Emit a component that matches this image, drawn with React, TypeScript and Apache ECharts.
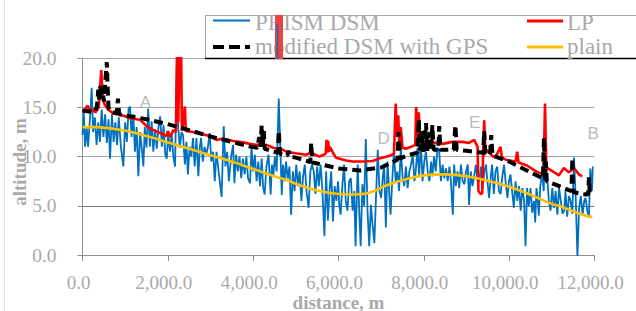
import React, { useEffect, useRef } from "react";
import * as echarts from "echarts";

// ---------- data ----------
const xTicks = { min: 0, max: 12000, interval: 2000 };
const yTicks = { min: 0, max: 20, interval: 5 };

const seriesNames = ["PRISM DSM", "LP", "modified DSM with GPS", "plain"];
const axisTitles = { x: "distance, m", y: "altitude, m" };

// PRISM DSM [distance m, altitude m]
const prismDSM: [number, number][] = [
  [0, 12.2], [30, 14.5], [60, 11.0], [100, 13.0], [130, 11.0], [170, 13.5], [215, 17.0], [250, 12.5],
  [290, 14.0], [330, 11.2], [370, 13.5], [410, 11.5], [450, 14.8], [490, 12.0], [530, 14.3], [570, 11.4],
  [610, 13.8], [645, 9.8], [690, 14.3], [730, 11.5], [770, 13.5], [810, 11.2], [850, 14.0], [900, 11.0],
  [957, 9.0], [1000, 13.5], [1040, 11.5], [1080, 14.9], [1114, 15.1], [1150, 12.0], [1190, 14.3], [1230, 10.5],
  [1270, 13.0], [1309, 8.0], [1350, 12.5], [1390, 10.8], [1426, 9.0], [1460, 13.0], [1500, 10.9], [1540, 14.9],
  [1580, 11.0], [1620, 13.6], [1660, 10.5], [1700, 12.8], [1740, 10.8], [1780, 13.0], [1820, 14.1], [1860, 11.0],
  [1900, 13.2], [1940, 10.2], [1974, 9.8], [2010, 12.5], [2050, 10.5], [2090, 12.2], [2130, 10.0], [2169, 9.0],
  [2210, 19.0], [2240, 13.2], [2280, 10.9], [2320, 12.5], [2356, 12.2], [2400, 9.2], [2435, 11.5], [2470, 8.2],
  [2510, 11.0], [2550, 10.0], [2590, 11.9], [2630, 9.0], [2670, 11.9], [2716, 8.0], [2750, 11.0], [2780, 11.9],
  [2820, 9.5], [2860, 11.0], [2900, 10.2], [2940, 11.0], [2980, 12.4], [3020, 9.5], [3060, 10.5], [3100, 7.5],
  [3140, 10.5], [3190, 8.5], [3260, 5.9], [3310, 13.1], [3350, 9.0], [3390, 10.5], [3430, 7.5], [3490, 10.2],
  [3530, 11.2], [3560, 7.3], [3600, 10.2], [3640, 8.5], [3680, 10.0], [3720, 7.8], [3760, 9.8], [3800, 8.2],
  [3840, 10.0], [3880, 7.8], [3927, 7.3], [3960, 11.0], [4000, 8.5], [4040, 10.2], [4080, 7.5], [4120, 9.5],
  [4160, 7.0], [4200, 9.8], [4232, 6.9], [4270, 6.15], [4310, 9.0], [4360, 10.2], [4410, 6.15], [4440, 9.2],
  [4470, 8.0], [4510, 10.0], [4550, 8.5], [4600, 15.9], [4640, 10.5], [4670, 6.1], [4700, 9.2], [4740, 7.5],
  [4770, 9.5], [4810, 7.8], [4850, 9.0], [4890, 4.1], [4930, 8.5], [4970, 6.5], [5010, 9.2], [5050, 7.0],
  [5090, 8.5], [5130, 5.5], [5170, 8.0], [5210, 9.2], [5250, 6.5], [5300, 4.8], [5340, 8.5], [5380, 9.2],
  [5420, 8.5], [5460, 6.2], [5500, 9.0], [5540, 7.0], [5580, 9.2], [5620, 6.8], [5670, 1.9], [5710, 8.5],
  [5750, 3.5], [5790, 6.5], [5830, 8.5], [5870, 3.4], [5910, 7.0], [5950, 5.5], [5990, 7.5], [6020, 5.0],
  [6050, 4.1], [6090, 7.0], [6130, 9.2], [6170, 5.5], [6210, 4.5], [6250, 7.5], [6290, 7.8], [6330, 4.5],
  [6370, 6.5], [6400, 0.9], [6450, 9.2], [6490, 4.0], [6520, 0.9], [6560, 7.2], [6600, 5.0], [6640, 11.8],
  [6680, 4.5], [6720, 0.9], [6760, 5.1], [6800, 3.0], [6840, 1.2], [6880, 6.0], [6920, 10.7], [6960, 6.5],
  [7000, 5.8], [7040, 8.0], [7070, 9.2], [7110, 2.8], [7150, 9.5], [7186, 6.5], [7220, 4.1], [7265, 8.0],
  [7300, 10.5], [7340, 7.5], [7380, 8.5], [7420, 6.5], [7460, 10.9], [7500, 8.0], [7540, 7.0], [7580, 9.0],
  [7620, 6.8], [7660, 8.5], [7700, 9.2], [7740, 10.2], [7780, 7.5], [7810, 8.5], [7850, 10.9], [7890, 8.0],
  [7930, 11.5], [7970, 7.5], [8010, 9.5], [8050, 10.5], [8090, 8.5], [8130, 7.5], [8170, 9.5], [8200, 8.0],
  [8240, 10.0], [8280, 8.5], [8320, 10.9], [8360, 10.6], [8400, 7.5], [8440, 9.2], [8480, 7.8], [8520, 8.8],
  [8560, 7.5], [8600, 9.0], [8630, 7.8], [8680, 4.1], [8710, 9.2], [8750, 7.0], [8790, 8.5], [8830, 6.8],
  [8870, 9.2], [8910, 7.5], [8950, 7.2], [8990, 8.5], [9030, 9.2], [9060, 5.1], [9100, 8.5], [9140, 7.0],
  [9180, 8.0], [9220, 9.2], [9260, 7.5], [9300, 7.5], [9340, 9.0], [9375, 6.8], [9420, 8.5], [9455, 9.2],
  [9490, 7.5], [9530, 5.8], [9570, 8.0], [9600, 9.2], [9640, 6.2], [9680, 8.5], [9720, 9.0], [9760, 6.5],
  [9800, 6.2], [9840, 8.0], [9880, 9.2], [9915, 7.5], [9960, 5.8], [9995, 7.5], [10030, 8.2], [10070, 6.5],
  [10110, 4.8], [10150, 7.5], [10190, 5.5], [10230, 7.0], [10270, 4.5], [10310, 6.8], [10350, 5.5], [10383, 0.9],
  [10420, 6.8], [10460, 5.0], [10500, 6.8], [10540, 4.3], [10580, 5.5], [10610, 3.3], [10640, 6.8], [10670, 5.5],
  [10695, 4.0], [10730, 7.0], [10775, 8.5], [10810, 6.5], [10840, 12.0], [10870, 7.5], [10890, 8.0], [10930, 5.5],
  [10970, 4.5], [11010, 6.8], [11050, 4.8], [11090, 6.5], [11130, 4.1], [11170, 6.8], [11210, 5.5], [11250, 4.2],
  [11290, 4.5], [11320, 6.5], [11360, 3.9], [11400, 6.0], [11440, 5.5], [11480, 4.2], [11520, 9.9], [11560, 5.8],
  [11600, -0.2], [11640, 4.8], [11680, 6.0], [11720, 4.1], [11760, 5.5], [11790, 5.8], [11830, 4.5], [11870, 3.8],
  [11900, 8.8], [11940, 6.5], [11960, 9.0],
];

// LP
const lp: [number, number][] = [
  [0, 14.7], [60, 14.8], [120, 15.2], [170, 14.6], [250, 14.8], [300, 14.5], [380, 15.0], [440, 18.8],
  [470, 16.0], [520, 15.3], [600, 14.8], [720, 14.4], [880, 14.25], [1000, 14.1], [1110, 13.9], [1350, 13.75],
  [1500, 13.1], [1660, 12.7], [1820, 12.4], [1970, 12.1], [2000, 12.6], [2060, 12.0], [2130, 12.7], [2190, 12.5],
  [2215, 21.0], [2245, 13.5], [2275, 21.0], [2310, 21.0], [2330, 12.6], [2400, 15.1], [2420, 12.6], [2600, 12.5],
  [2980, 12.1], [3140, 11.7], [3290, 11.85], [3530, 11.6], [3760, 11.45], [3920, 11.3], [4080, 11.2], [4310, 11.2],
  [4470, 10.9], [4700, 10.7], [4770, 10.5], [5000, 10.35], [5240, 10.2], [5360, 10.4], [5550, 10.0], [5700, 10.3],
  [5720, 11.7], [5740, 10.4], [5760, 11.6], [5780, 10.5], [5800, 11.0], [5870, 10.4], [5940, 9.9], [6180, 9.6],
  [6335, 9.5], [6570, 9.5], [6800, 9.55], [6950, 9.8], [7120, 10.0], [7230, 10.15], [7300, 10.3], [7340, 15.4],
  [7370, 12.0], [7400, 14.2], [7430, 10.6], [7460, 13.0], [7500, 10.9], [7580, 10.8], [7700, 11.0], [7800, 11.2],
  [7820, 15.05], [7860, 12.0], [7880, 14.5], [7920, 11.5], [7970, 11.4], [8200, 11.45], [8440, 11.3], [8670, 11.5],
  [8900, 11.5], [9060, 11.4], [9180, 11.7], [9260, 11.0], [9280, 6.5], [9330, 6.2], [9370, 6.3], [9390, 10.5],
  [9415, 13.7], [9440, 10.8], [9555, 10.3], [9625, 10.0], [9700, 10.1], [9797, 11.0], [9830, 9.9], [9946, 9.65],
  [10150, 9.5], [10188, 10.5], [10220, 9.4], [10415, 9.1], [10650, 8.45], [10806, 8.2], [10840, 15.4], [10870, 8.9],
  [11040, 8.45], [11166, 8.1], [11283, 8.85], [11400, 8.4], [11517, 8.85], [11634, 8.2], [11710, 8.0],
];

// modified DSM with GPS
const modifiedGPS: [number, number][] = [
  [0, 14.7], [150, 14.6], [300, 14.6], [340, 15.2], [370, 16.8], [390, 15.8], [420, 17.2], [440, 16.2],
  [470, 17.0], [500, 15.6], [540, 18.0], [570, 19.6], [590, 17.0], [610, 15.0], [650, 14.6], [800, 14.4],
  [830, 15.9], [860, 14.3], [1000, 14.2], [1500, 13.8], [2000, 13.3], [2500, 12.7], [3000, 12.05], [3500, 11.5],
  [3900, 11.05], [4100, 10.9], [4140, 12.0], [4170, 11.0], [4200, 13.2], [4230, 11.2], [4250, 12.6], [4270, 10.8],
  [4500, 10.5], [4580, 10.4], [4600, 12.6], [4630, 10.3], [4800, 10.1], [4830, 10.6], [4860, 10.0], [5000, 9.9],
  [5340, 9.45], [5360, 11.4], [5390, 9.4], [5500, 9.3], [6000, 8.8], [6500, 8.6], [7000, 8.9], [7200, 9.3],
  [7380, 9.7], [7410, 12.5], [7440, 9.8], [7600, 10.1], [7850, 10.4], [7880, 13.8], [7910, 10.6], [7950, 12.6],
  [7990, 10.5], [8050, 13.4], [8080, 10.6], [8130, 12.5], [8170, 10.6], [8200, 13.2], [8230, 10.7], [8340, 10.7],
  [8360, 13.1], [8390, 10.7], [8500, 10.7], [8700, 10.7], [8740, 13.2], [8770, 10.7], [9000, 10.6], [9390, 10.4],
  [9415, 12.6], [9440, 10.3], [9550, 10.2], [9580, 12.2], [9610, 10.1], [10000, 9.5], [10500, 8.4], [10790, 7.8],
  [10815, 11.9], [10840, 7.5], [10860, 9.5], [10880, 7.5], [11000, 7.3], [11460, 6.5], [11480, 9.85], [11500, 6.4],
  [11700, 6.2], [11850, 6.15], [11870, 7.9], [11890, 6.1], [11930, 6.0],
];

// plain
const plain: [number, number][] = [
  [0, 13.0], [300, 13.0], [700, 12.85], [1000, 12.65], [1500, 12.1], [2000, 11.45], [2300, 11.05], [2500, 10.8],
  [3000, 10.15], [3500, 9.5], [4000, 8.75], [4500, 8.0], [4770, 7.65], [5000, 7.25], [5500, 6.55], [6000, 6.2],
  [6300, 6.15], [6700, 6.3], [7100, 7.05], [7500, 7.6], [8000, 8.1], [8500, 8.2], [9000, 8.0], [9500, 7.55],
  [10000, 6.95], [10400, 6.3], [11000, 5.2], [11200, 4.95], [11700, 4.12], [11950, 3.85],
];

// point annotations
const annotLetters = ["A", "D", "E", "B"];
const annotDist = [1472, 7057, 9191, 11970];
const annotAlt = [15.48, 11.85, 13.45, 12.36];

// ---------- styles ----------
const SERIF = "'Liberation Serif', 'Times New Roman', serif";
const SANS = "'Liberation Sans', Arial, sans-serif";
const GREY_TEXT = "#a9a9a9";
const COLORS = ["#0070C0", "#FF0000", "#000000", "#FFC000"];

const fmt1 = (v: number) =>
  v.toLocaleString("en-US", { minimumFractionDigits: 1, maximumFractionDigits: 1 });

export default function App() {
  const ref = useRef<HTMLDivElement>(null);

  useEffect(() => {
    if (!ref.current) return;
    document.body.style.margin = "0";
    const chart = echarts.init(ref.current, undefined, { renderer: "svg" });

    const legendText = (text: string, x: number, y: number) => ({
      type: "text",
      x,
      y,
      z: 110,
      style: {
        text,
        fill: GREY_TEXT,
        font: `23px ${SERIF}`,
        align: "left",
        verticalAlign: "middle",
      },
    });
    const legendLine = (x1: number, x2: number, y: number, color: string, w: number, dash?: number[]) => ({
      type: "line",
      z: 110,
      shape: { x1, y1: y, x2, y2: y },
      style: { stroke: color, lineWidth: w, lineDash: dash },
    });

    chart.setOption({
      animation: false,
      backgroundColor: "#ffffff",
      grid: {
        left: 82.5,
        right: 41.5,
        top: 58.3,
        bottom: 56,
        containLabel: false,
        outerBoundsMode: "none",
      },
      xAxis: {
        type: "value",
        min: xTicks.min,
        max: xTicks.max,
        interval: xTicks.interval,
        axisLine: { show: true, lineStyle: { color: "#8f8f8f", width: 1 } },
        axisTick: { show: true, length: 6, lineStyle: { color: "#8f8f8f" } },
        axisLabel: {
          color: GREY_TEXT,
          fontFamily: SERIF,
          fontSize: 19,
          margin: 18,
          padding: [0, 8, 0, 0],
          formatter: (v: number) => fmt1(v),
        },
        splitLine: { show: false },
      },
      yAxis: {
        type: "value",
        min: yTicks.min,
        max: yTicks.max,
        interval: yTicks.interval,
        axisLine: { show: true, lineStyle: { color: "#8f8f8f", width: 1 } },
        axisTick: { show: true, length: 5, lineStyle: { color: "#8f8f8f" } },
        axisLabel: {
          color: GREY_TEXT,
          fontFamily: SERIF,
          fontSize: 19.5,
          margin: 26,
          formatter: (v: number) => fmt1(v),
        },
        splitLine: {
          show: true,
          lineStyle: { color: ["#a6a6a6", "#7a7a7a", "#a6a6a6", "#a6a6a6", "#a6a6a6"], width: 1 },
        },
      },
      series: [
        {
          name: seriesNames[0],
          type: "line",
          data: prismDSM,
          showSymbol: false,
          symbol: "none",
          lineStyle: { color: COLORS[0], width: 1.8 },
          z: 2,
        },
        {
          name: seriesNames[1],
          type: "line",
          data: lp,
          showSymbol: false,
          symbol: "none",
          lineStyle: { color: COLORS[1], width: 2.6 },
          z: 3,
        },
        {
          name: seriesNames[2],
          type: "line",
          data: modifiedGPS,
          showSymbol: false,
          symbol: "none",
          lineStyle: { color: COLORS[2], width: 4, type: [9, 5] },
          z: 4,
        },
        {
          name: seriesNames[3],
          type: "line",
          data: plain,
          smooth: 0.4,
          showSymbol: false,
          symbol: "none",
          lineStyle: { color: COLORS[3], width: 2.6 },
          z: 5,
        },
        {
          name: "labels",
          type: "scatter",
          silent: true,
          symbolSize: 1,
          itemStyle: { color: "rgba(0,0,0,0)" },
          data: annotLetters.map((l, i) => ({ name: l, value: [annotDist[i], annotAlt[i]] })),
          label: {
            show: true,
            position: "inside",
            formatter: "{b}",
            color: GREY_TEXT,
            fontFamily: SANS,
            fontSize: 17,
          },
          z: 6,
        },
      ],
      graphic: [
        { type: "line", z: 1, shape: { x1: 4.5, y1: 0, x2: 4.5, y2: 311 }, style: { stroke: "#e6e6e6", lineWidth: 1 } },
        // axis titles
        {
          type: "text",
          x: 19,
          y: 162,
          rotation: Math.PI / 2,
          z: 50,
          style: {
            text: axisTitles.y,
            fill: GREY_TEXT,
            font: `bold 19px ${SERIF}`,
            align: "center",
            verticalAlign: "middle",
          },
        },
        {
          type: "text",
          x: 338.5,
          y: 302,
          z: 50,
          style: {
            text: axisTitles.x,
            fill: GREY_TEXT,
            font: `bold 19px ${SERIF}`,
            align: "center",
            verticalAlign: "middle",
          },
        },
        // legend box
        { type: "rect", z: 100, shape: { x: 205, y: 15, width: 440, height: 44 }, style: { fill: "#ffffff" } },
        { type: "line", z: 101, shape: { x1: 205, y1: 15.5, x2: 636, y2: 15.5 }, style: { stroke: "#a6a6a6", lineWidth: 1 } },
        { type: "line", z: 101, shape: { x1: 205.5, y1: 15, x2: 205.5, y2: 59 }, style: { stroke: "#a6a6a6", lineWidth: 1 } },
        { type: "line", z: 101, shape: { x1: 205, y1: 58.6, x2: 636, y2: 58.6 }, style: { stroke: "#000000", lineWidth: 1.5 } },
        legendLine(213, 250, 20.5, COLORS[0], 2),
        legendLine(527, 563, 21, COLORS[1], 3.2),
        legendLine(213, 250, 47, COLORS[2], 4, [11, 5]),
        legendLine(527, 563, 47, COLORS[3], 3),
        legendText(seriesNames[0], 255, 22),
        legendText(seriesNames[1], 567, 22),
        legendText(seriesNames[2], 255, 46),
        legendText(seriesNames[3], 567, 46),
        { type: "rect", z: 120, shape: { x: 275, y: 15, width: 8, height: 44 }, style: { fill: "#ee4242" } },
        { type: "line", z: 121, shape: { x1: 277.5, y1: 24, x2: 277.5, y2: 59 }, style: { stroke: COLORS[0], lineWidth: 1.5 } },
      ],
    });

    return () => chart.dispose();
  }, []);

  return <div ref={ref} style={{ width: 636, height: 311 }} />;
}
